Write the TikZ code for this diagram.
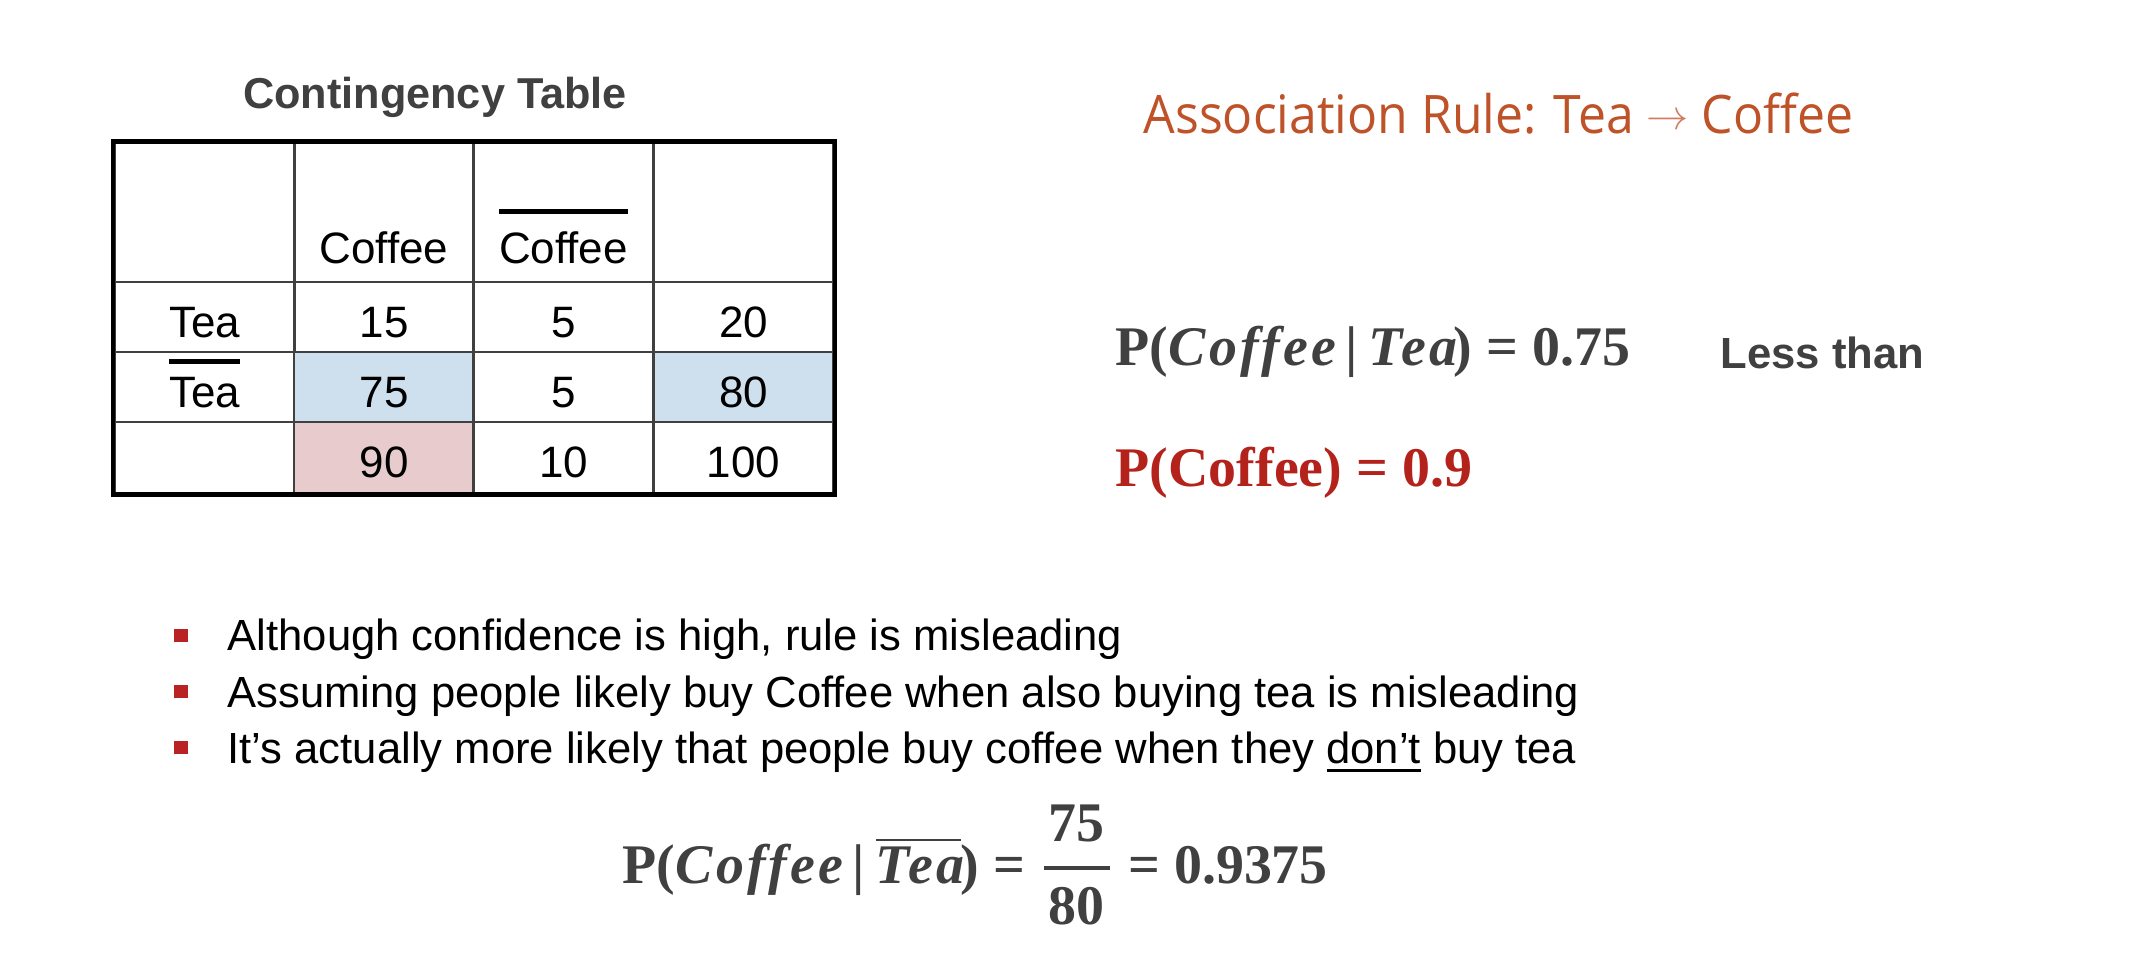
\documentclass[tikz,border=0pt]{standalone}
\usepackage[no-math]{fontspec}
\setmainfont{Liberation Sans}
\newfontfamily\rulefont[FakeStretch=0.94]{Open Sans}
\newfontfamily\probfont{Liberation Serif}

\definecolor{darktext}{RGB}{64,64,64}
\definecolor{rulecolor}{RGB}{190,82,40}
\definecolor{probred}{RGB}{180,34,28}
\definecolor{bulletred}{RGB}{185,35,35}
\definecolor{cellblue}{RGB}{206,223,237}
\definecolor{cellpink}{RGB}{232,204,205}

\newcommand\barlabel[3]{\vbox{\hrule height #1\kern#2\hbox{#3}}}
\newcommand\underlabel[1]{\vtop{\hbox{#1}\kern1.6pt\hrule height 0.9pt}}
\newcommand\var[1]{{\itshape\addfontfeature{LetterSpace=6}#1\kern-0.06em}}
\newcommand\given{\hspace{0.22em}|\hspace{0.2em}}

\begin{document}
\begin{tikzpicture}[x=0.01cm,y=-0.01cm,
	cell/.style={draw=black!75, line width=0.8pt, minimum width=1.8cm, minimum height=0.7cm, inner sep=0pt, text height=0.4cm, text depth=0pt, font=\fontsize{12.5}{15}\selectfont},
	headcell/.style={cell, minimum height=1.39cm, text height=1.01cm},
	formula/.style={inner sep=0pt, anchor=base west, text=darktext, font=\probfont\bfseries\fontsize{15.9}{19}\selectfont},
	bullet/.style={fill=bulletred, inner sep=0pt, minimum size=0.13cm},
	point/.style={inner sep=0pt, anchor=base west, font=\fontsize{12.4}{15}\selectfont}]
	\useasboundingbox (0,0) rectangle (2134,954);
	\node[inner sep=0pt, anchor=base, text=darktext, font=\bfseries\fontsize{12.3}{15}\selectfont]
	(title) at (435,108) {Contingency Table};
	% table
	\node[headcell] (h0) at (204.5,212.5) {};
	\node[headcell] (h1) at (384,212.5) {Coffee};
	\node[headcell] (h2) at (563.5,212.5) {\barlabel{1.3pt}{5pt}{Coffee}};
	\node[headcell] (h3) at (743.5,212.5) {};
	\node[cell] (t0) at (204.5,317) {Tea};
	\node[cell] (t1) at (384,317) {15};
	\node[cell] (t2) at (563.5,317) {5};
	\node[cell] (t3) at (743.5,317) {20};
	\node[cell] (n0) at (204.5,387) {\barlabel{1.3pt}{3.7pt}{Tea}};
	\node[cell, fill=cellblue] (n1) at (384,387) {75};
	\node[cell] (n2) at (563.5,387) {5};
	\node[cell, fill=cellblue] (n3) at (743.5,387) {80};
	\node[cell, minimum height=0.71cm] (s0) at (204.5,457.5) {};
	\node[cell, minimum height=0.71cm, fill=cellpink] (s1) at (384,457.5) {90};
	\node[cell, minimum height=0.71cm] (s2) at (563.5,457.5) {10};
	\node[cell, minimum height=0.71cm] (s3) at (743.5,457.5) {100};
	\draw[line width=1.3pt] (h0.north west) rectangle (s3.south east);
	% rule and probabilities
	\node[inner sep=0pt, anchor=base west, text=rulecolor, font=\rulefont\fontsize{15.1}{18}\selectfont]
	(rule) at (1143,133) {Association Rule: Tea {\fontsize{12}{12}\selectfont\raisebox{1pt}{\textcolor{rulecolor!75}{$\rightarrow$}}} Coffee};
	\node[formula] (ptea) at (1115,365) {P(\var{Coffee}\given\var{Tea}) = 0.75};
	\node[inner sep=0pt, anchor=base west, text=darktext, font=\bfseries\fontsize{12.4}{15}\selectfont]
	(less) at (1720,368) {Less than};
	\node[formula, text=probred] (pcof) at (1115,486) {P(Coffee) = 0.9};
	% bullets
	\node[bullet] (b1) at (181,635) {};
	\node[bullet] (b2) at (181,691) {};
	\node[bullet] (b3) at (181,747) {};
	\node[point] (p1) at (227,650) {Although confidence is high, rule is misleading};
	\node[point] (p2) at (227,707) {Assuming people likely buy Coffee when also buying tea is misleading};
	\node[point] (p3) at (227,763) {It’s actually more likely that people buy coffee when they \underlabel{don’t} buy tea};
	\node[formula] (pnot) at (622,883) {P(\var{Coffee}\given\barlabel{0.7pt}{1.5pt}{\var{Tea}}) = $\displaystyle{\hbox{\kern1.5pt 75\kern1.5pt}\above1.1pt\hbox{\kern1.5pt 80\kern1.5pt}}$ = 0.9375};
\end{tikzpicture}
\end{document}
